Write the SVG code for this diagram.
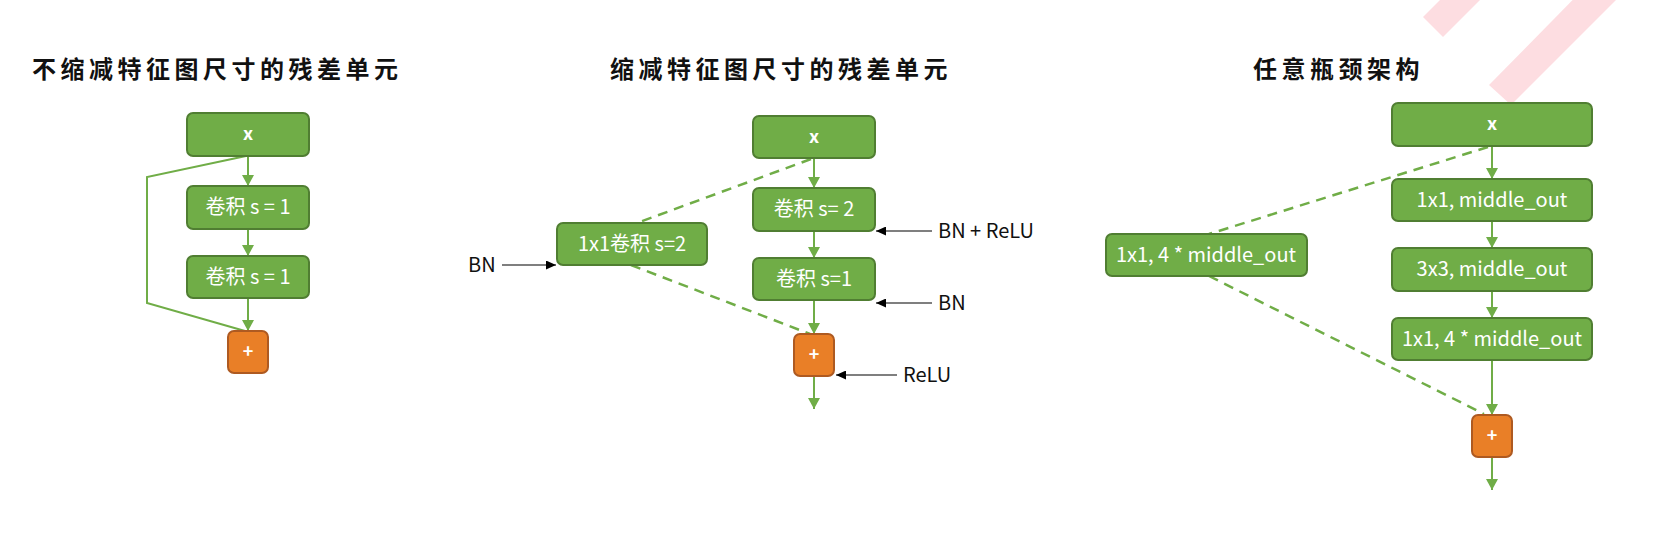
<svg xmlns="http://www.w3.org/2000/svg" width="1656" height="540" viewBox="0 0 1656 540">
<style>
.title{font-family:"Noto Sans CJK SC","Noto Sans",sans-serif;font-weight:700;font-size:24px;letter-spacing:4.5px;fill:#111}
.box{fill:#70AD47;stroke:#507E32;stroke-width:2}
.add{fill:#E97F27;stroke:#AE5A21;stroke-width:2}
.lbl{font-family:"Noto Sans CJK SC","Noto Sans",sans-serif;font-size:20px;fill:#fff;text-anchor:middle}
.sym{font-family:"Noto Sans CJK SC","Noto Sans",sans-serif;font-size:18px;font-weight:700;fill:#fff;text-anchor:middle}
.ann{font-family:"Noto Sans CJK SC","Noto Sans",sans-serif;font-size:20px;fill:#111}
.ln{stroke:#70AD47;stroke-width:2;fill:none}
.dash{stroke:#70AD47;stroke-width:2.5;fill:none;stroke-dasharray:10 7}
.bl{stroke:#000;stroke-width:1.2;fill:none}
</style>
<defs>
<marker id="ga" markerUnits="userSpaceOnUse" markerWidth="11" markerHeight="12" refX="11" refY="6" orient="auto"><path d="M0,0 L11,6 L0,12 z" fill="#70AD47"/></marker>
<marker id="ka" markerUnits="userSpaceOnUse" markerWidth="10" markerHeight="9" refX="10" refY="4.5" orient="auto"><path d="M0,0 L10,4.5 L0,9 z" fill="#000"/></marker>
</defs>
<rect width="1656" height="540" fill="#fff"/>
<g id="watermark" fill="#FDDDE1">
<polygon points="1423,17 1443,37 1493,-13 1473,-33"/>
<polygon points="1489,85 1511,105 1630,-14 1608,-36"/>
</g>
<g id="titles">
<text class="title" x="32" y="78">不缩减特征图尺寸的残差单元</text>
<text class="title" x="610" y="78">缩减特征图尺寸的残差单元</text>
<text class="title" x="1253" y="78">任意瓶颈架构</text>
</g>
<g id="connectors">
<line class="ln" x1="248" y1="156" x2="248" y2="186" marker-end="url(#ga)"/>
<line class="ln" x1="248" y1="229" x2="248" y2="256" marker-end="url(#ga)"/>
<line class="ln" x1="248" y1="298" x2="248" y2="331" marker-end="url(#ga)"/>
<polyline class="ln" points="246,156 147,177 147,303 245,331"/>
<line class="ln" x1="814" y1="158" x2="814" y2="188" marker-end="url(#ga)"/>
<line class="ln" x1="814" y1="231" x2="814" y2="258" marker-end="url(#ga)"/>
<line class="ln" x1="814" y1="300" x2="814" y2="334" marker-end="url(#ga)"/>
<line class="ln" x1="814" y1="376" x2="814" y2="409" marker-end="url(#ga)"/>
<line class="dash" x1="811" y1="159" x2="637" y2="223"/>
<line class="dash" x1="631" y1="265" x2="810" y2="334"/>
<line class="ln" x1="1492" y1="146" x2="1492" y2="179" marker-end="url(#ga)"/>
<line class="ln" x1="1492" y1="221" x2="1492" y2="248" marker-end="url(#ga)"/>
<line class="ln" x1="1492" y1="291" x2="1492" y2="318" marker-end="url(#ga)"/>
<line class="ln" x1="1492" y1="360" x2="1492" y2="415" marker-end="url(#ga)"/>
<line class="ln" x1="1492" y1="457" x2="1492" y2="490" marker-end="url(#ga)"/>
<line class="dash" x1="1488" y1="147" x2="1209" y2="234"/>
<line class="dash" x1="1209" y1="276" x2="1484" y2="414"/>
<line class="bl" x1="502" y1="265" x2="556" y2="265" marker-end="url(#ka)"/>
<line class="bl" x1="932" y1="231" x2="876" y2="231" marker-end="url(#ka)"/>
<line class="bl" x1="932" y1="303" x2="876" y2="303" marker-end="url(#ka)"/>
<line class="bl" x1="897" y1="375" x2="836" y2="375" marker-end="url(#ka)"/>
</g>
<g id="annotations">
<text class="ann" x="468" y="272">BN</text>
<text class="ann" x="938" y="238">BN + ReLU</text>
<text class="ann" x="938" y="310">BN</text>
<text class="ann" x="903" y="382">ReLU</text>
</g>
<g id="a-x"><rect class="box" x="187" y="113" width="122" height="43" rx="6"/><text class="sym" x="248" y="140">x</text></g>
<g id="a-conv1"><rect class="box" x="187" y="186" width="122" height="43" rx="6"/><text class="lbl" x="248" y="214">卷积 s = 1</text></g>
<g id="a-conv2"><rect class="box" x="187" y="256" width="122" height="42" rx="6"/><text class="lbl" x="248" y="284">卷积 s = 1</text></g>
<g id="a-add"><rect class="add" x="228" y="331" width="40" height="42" rx="6"/><text class="sym" x="248" y="358">+</text></g>
<g id="b-x"><rect class="box" x="753" y="116" width="122" height="42" rx="6"/><text class="sym" x="814" y="143">x</text></g>
<g id="b-conv2"><rect class="box" x="753" y="188" width="122" height="43" rx="6"/><text class="lbl" x="814" y="216">卷积 s= 2</text></g>
<g id="b-conv1"><rect class="box" x="753" y="258" width="122" height="42" rx="6"/><text class="lbl" x="814" y="286">卷积 s=1</text></g>
<g id="b-short"><rect class="box" x="557" y="223" width="150" height="42" rx="6"/><text class="lbl" x="632" y="251">1x1卷积 s=2</text></g>
<g id="b-add"><rect class="add" x="794" y="334" width="40" height="42" rx="6"/><text class="sym" x="814" y="361">+</text></g>
<g id="c-x"><rect class="box" x="1392" y="103" width="200" height="43" rx="6"/><text class="sym" x="1492" y="130">x</text></g>
<g id="c-1"><rect class="box" x="1392" y="179" width="200" height="42" rx="6"/><text class="lbl" x="1492" y="207">1x1, middle_out</text></g>
<g id="c-2"><rect class="box" x="1392" y="248" width="200" height="43" rx="6"/><text class="lbl" x="1492" y="276">3x3, middle_out</text></g>
<g id="c-3"><rect class="box" x="1392" y="318" width="200" height="42" rx="6"/><text class="lbl" x="1492" y="346">1x1, 4 * middle_out</text></g>
<g id="c-short"><rect class="box" x="1106" y="234" width="201" height="42" rx="6"/><text class="lbl" x="1206" y="262">1x1, 4 * middle_out</text></g>
<g id="c-add"><rect class="add" x="1472" y="415" width="40" height="42" rx="6"/><text class="sym" x="1492" y="442">+</text></g>
</svg>
